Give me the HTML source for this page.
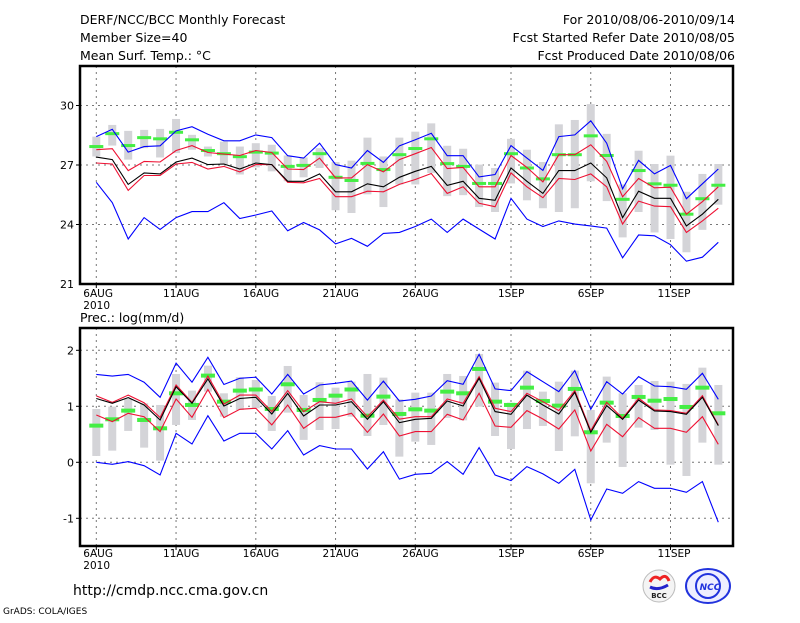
<!DOCTYPE html>
<html><head><meta charset="utf-8"><style>
body{margin:0;background:#fff;}
svg text{font-family:"DejaVu Sans","Liberation Sans",sans-serif;fill:#000;}
</style></head><body>
<svg id="c" width="800" height="618" viewBox="0 0 800 618" xmlns="http://www.w3.org/2000/svg">
<rect width="800" height="618" fill="#fff"/>
<g font-size="12.5">
<text x="80" y="24">DERF/NCC/BCC Monthly Forecast</text>
<text x="80" y="42">Member Size=40</text>
<text x="80" y="60">Mean Surf. Temp.: °C</text>
</g>
<g font-size="12.5" text-anchor="end">
<text x="735" y="24">For 2010/08/06-2010/09/14</text>
<text x="735" y="42">Fcst Started Refer Date 2010/08/05</text>
<text x="735" y="60">Fcst Produced Date 2010/08/06</text>
</g>
<text x="80" y="322" font-size="12.5">Prec.: log(mm/d)</text>
<text x="73" y="595" font-size="14">http://cmdp.ncc.cma.gov.cn</text>
<text x="3" y="614" font-size="9">GrADS: COLA/IGES</text>
<g>
<circle cx="659" cy="586" r="16" fill="#f4f4f4" stroke="#bbb"/>
<path d="M650 582 q4 -8 10 -3 q6 -6 9 2" stroke="#e22" stroke-width="3" fill="none"/>
<path d="M650 587 q8 4 18 -2" stroke="#22c" stroke-width="3" fill="none"/>
<text x="659" y="598" font-size="7" text-anchor="middle" font-weight="bold" style="fill:#222">BCC</text>
</g>
<g>
<ellipse cx="708" cy="586" rx="22" ry="17" fill="#eef" stroke="#2233dd" stroke-width="2"/>
<circle cx="708" cy="586" r="12" fill="none" stroke="#2233dd" stroke-width="2"/>
<text x="710" y="590" font-size="9" text-anchor="middle" font-weight="bold" font-style="italic" style="fill:#2233dd">NCC</text>
</g>
<g id="top"></g>
<g id="bot"></g>
</svg>
<script>
const dayLabels=["6AUG","11AUG","16AUG","21AUG","26AUG","1SEP","6SEP","11SEP"];
const dayLabelIdx=[0,5,10,15,20,26,31,36];
const tTicks=[30,27,24,21];
const pTicks=[2,1,0,-1];
const tMax=[28.43,28.8,27.65,27.93,27.97,28.72,28.93,28.55,28.22,28.22,28.52,28.38,27.47,27.35,28.1,27.02,26.85,27.73,27.13,27.97,28.27,28.6,27.47,27.47,26.4,26.52,27.98,27.35,26.73,28.43,28.52,29.23,28.1,25.8,27.23,26.55,26.98,25.3,26.05,26.8];
const tMin=[26.13,25.1,23.27,24.35,23.75,24.35,24.65,24.65,25.1,24.3,24.48,24.68,23.68,24.1,23.73,23.02,23.3,22.9,23.55,23.6,23.9,24.27,23.6,24.27,23.77,23.27,25.32,24.27,23.9,24.18,24.02,23.93,23.82,22.32,23.47,23.43,22.98,22.15,22.35,23.1];
const tUp=[27.77,27.82,26.72,27.18,27.15,27.73,27.98,27.63,27.55,27.48,27.73,27.63,26.8,26.77,27.35,26.35,26.35,27.02,26.65,27.27,27.57,27.88,26.82,26.88,25.9,25.9,27.48,26.88,26.15,27.52,27.52,28.02,27.18,25.4,26.32,25.85,25.88,24.52,25.15,25.9];
const tMean=[27.4,27.27,26.02,26.6,26.55,27.15,27.35,27.02,27.05,26.8,27.1,27.02,26.18,26.18,26.55,25.65,25.65,26.05,25.9,26.38,26.68,26.93,25.97,26.18,25.32,25.22,26.85,26.18,25.57,26.72,26.72,27.1,26.35,24.35,25.68,25.32,25.32,23.93,24.52,25.27];
const tLo=[27.1,27.05,25.72,26.47,26.47,27.05,27.13,26.8,26.93,26.65,27.02,27.02,26.13,26.1,26.32,25.4,25.4,25.68,25.65,26.02,26.27,26.57,25.57,25.9,25.07,24.9,26.6,25.9,25.35,26.32,26.27,26.55,25.9,24.02,25.18,24.93,24.9,23.6,24.18,24.82];
const tObs=[27.93,28.58,27.98,28.38,28.32,28.65,28.27,27.73,27.57,27.42,27.65,27.6,26.93,26.98,27.57,26.38,26.22,27.08,26.77,27.52,27.83,28.32,27.07,26.93,26.07,26.07,27.57,26.85,26.3,27.52,27.52,28.47,27.48,25.27,26.72,26.05,25.98,24.52,25.3,25.98];
const tBarHi=[28.43,29.02,28.72,28.77,28.82,29.32,28.52,27.93,28.18,27.93,28.1,28.02,27.48,27.38,27.85,27.15,27.22,28.38,27.43,28.38,28.68,29.1,27.97,27.82,27.02,26.85,28.32,27.77,27.15,29.05,29.27,30.07,28.57,26.02,27.72,27.05,27.47,25.65,26.55,27.05];
const tBarLo=[27.43,27.98,27.27,27.85,27.38,27.6,27.77,27.43,27.02,26.52,26.88,26.68,26.18,26.38,26.85,24.72,24.58,25.52,24.88,26.02,26.02,26.6,25.43,25.48,24.88,24.63,26.07,25.22,24.82,24.63,24.82,26.18,25.18,23.35,24.63,23.6,23.27,22.6,23.73,25.0];
const pMax=[1.57,1.54,1.57,1.43,1.16,1.77,1.43,1.875,1.39,1.5,1.52,1.22,1.57,1.22,1.38,1.41,1.45,1.11,1.45,1.095,1.125,1.184,1.458,1.393,1.929,1.31,1.28,1.62,1.44,1.262,1.637,0.946,1.44,1.22,1.53,1.363,1.35,1.304,1.59,1.125];
const pMin=[0.0,-0.036,0.012,-0.06,-0.226,0.518,0.327,0.833,0.381,0.518,0.518,0.238,0.565,0.131,0.298,0.238,0.238,-0.119,0.19,-0.3,-0.214,-0.196,0.012,-0.214,0.262,-0.226,-0.327,-0.077,-0.208,-0.375,-0.125,-1.03,-0.476,-0.554,-0.345,-0.464,-0.464,-0.536,-0.345,-1.07];
const pUp=[1.185,1.07,1.2,1.065,0.8,1.38,1.07,1.54,1.04,1.2,1.2,0.905,1.28,0.905,1.083,1.054,1.13,0.815,1.11,0.77,0.815,0.815,1.13,1.054,1.53,0.964,0.905,1.232,1.083,0.923,1.28,0.565,1.07,0.786,1.143,0.935,0.923,0.875,1.19,0.667];
const pMean=[1.14,1.054,1.155,1.024,0.756,1.35,1.054,1.49,1.006,1.14,1.16,0.863,1.23,0.827,1.024,1.024,1.083,0.768,1.083,0.708,0.768,0.786,1.095,1.006,1.5,0.905,0.857,1.2,1.024,0.863,1.25,0.536,1.012,0.768,1.113,0.917,0.905,0.857,1.16,0.655];
const pLo=[0.845,0.726,0.875,0.815,0.548,1.13,0.804,1.3,0.798,0.946,0.964,0.667,1.024,0.607,0.804,0.804,0.875,0.536,0.863,0.47,0.548,0.548,0.857,0.756,1.232,0.649,0.625,0.923,0.774,0.595,0.935,0.202,0.679,0.458,0.798,0.607,0.607,0.536,0.815,0.321];
const pObs=[0.655,0.768,0.923,0.756,0.607,1.232,1.024,1.548,1.083,1.28,1.3,0.952,1.393,0.935,1.113,1.19,1.3,0.833,1.173,0.863,0.946,0.923,1.262,1.232,1.667,1.083,1.024,1.333,1.095,1.012,1.31,0.536,1.065,0.827,1.167,1.1,1.13,0.988,1.333,0.875];
const pBarHi=[0.952,0.994,1.131,1.054,1.024,1.577,1.28,1.726,1.232,1.518,1.47,1.185,1.72,1.202,1.43,1.333,1.44,1.577,1.512,1.125,1.244,1.244,1.577,1.542,1.935,1.423,1.065,1.637,1.262,1.44,1.637,0.935,1.53,1.232,1.381,1.452,1.44,1.4,1.69,1.381];
const pBarLo=[0.113,0.208,0.56,0.262,0.03,0.667,0.756,1.262,0.815,0.935,0.964,0.56,0.887,0.4,0.577,0.595,0.815,0.47,0.666,0.101,0.369,0.31,0.792,0.75,0.994,0.47,0.238,0.595,0.649,0.202,0.464,-0.375,0.351,-0.083,0.619,0.577,-0.042,-0.244,0.351,-0.042];

const NS="http://www.w3.org/2000/svg";
function mk(p,tag,a){const e=document.createElementNS(NS,tag);for(const k in a)e.setAttribute(k,a[k]);p.appendChild(e);return e;}
const L=80,R=733;
function xs(d){return 96.3+d*15.95;}
function panel(g,top,bot,yv,yp,ticks,hi,lo,obs,bHi,bLo,mx,mn,up,me,lw,obsH){
  const ys=v=>top+(yv-v)/(yv-yp)*(bot-top)*0+ (v0=>v0)(0)+0; // placeholder
}
function draw(g,boxTop,boxBot,v1,y1,v2,y2,ticks,bHi,bLo,obs,mx,mn,up,me,lo,obsH,labelY){
  const ys=v=>y1+(v-v1)*(y2-y1)/(v2-v1);
  ticks.forEach(t=>{const y=ys(t);
    const gl=mk(g,'line',{x1:L,x2:R,y1:y,y2:y,stroke:'#777','stroke-dasharray':'2,4'});
    
    
    const tk=mk(g,'line',{x1:L-4,x2:L,y1:y,y2:y,stroke:'#000'});
    
    
    const tx=mk(g,'text',{x:L-6,y:y+4,'font-size':11,'text-anchor':'end'});tx.textContent=t;
    
    
  });
  dayLabelIdx.forEach((d,i)=>{const x=xs(d);
    const gl=mk(g,'line',{x1:x,x2:x,y1:boxTop,y2:boxBot,stroke:'#777','stroke-dasharray':'2,4'});
    
    
    const tk=mk(g,'line',{x1:x,x2:x,y1:boxBot,y2:boxBot+4,stroke:'#000'});
    
    
    const tx=mk(g,'text',{x:x-13,y:labelY,'font-size':10.5});tx.textContent=dayLabels[i];
    
    
  });
  const yr=mk(g,'text',{x:xs(0)-13,y:labelY+12,'font-size':10.5});yr.textContent='2010';
  
  
  bHi.forEach((h,i)=>{const a=ys(h),b=ys(bLo[i]);
    const r=mk(g,'rect',{x:xs(i)-4,y:Math.min(a,b),width:8,height:Math.abs(b-a),fill:'#d4d4d8'});
    
    
  });
  obs.forEach((v,i)=>{
    const r=mk(g,'rect',{x:xs(i)-7,y:ys(v)-obsH/2,width:14,height:obsH,fill:'#44ee44'});
    
    
  });
  [[mx,'#0000ff','max-line'],[mn,'#0000ff','min-line'],[up,'#ee1133','upper-quantile-line'],[lo,'#ee1133','lower-quantile-line'],[me,'#000','ensemble-mean-line']].forEach(s=>{
    const pl=mk(g,'polyline',{points:s[0].map((v,i)=>xs(i).toFixed(1)+','+ys(v).toFixed(1)).join(' '),fill:'none',stroke:s[1],'stroke-width':1.1});
    
    
  });
  const bx=mk(g,'rect',{x:L,y:boxTop,width:R-L,height:boxBot-boxTop,fill:'none',stroke:'#000','stroke-width':2.5});
  
  
}
draw(document.getElementById('top'),66,284,27,165,24,224.5,tTicks.slice(0,3),tBarHi,tBarLo,tObs,tMax,tMin,tUp,tMean,tLo,3,297);
draw(document.getElementById('bot'),328,546,1,406.3,0,462.3,pTicks,pBarHi,pBarLo,pObs,pMax,pMin,pUp,pMean,pLo,4,557);
// bottom y-axis label 21 on top panel
const t21=mk(document.getElementById('top'),'text',{x:74,y:288,'font-size':11,'text-anchor':'end'});t21.textContent='21';


</script>
</body></html>
